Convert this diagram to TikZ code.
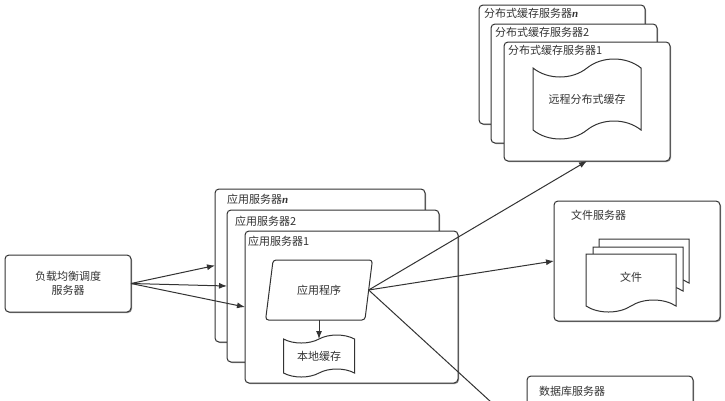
\documentclass[tikz,border=0pt]{standalone}
\usepackage{fontspec}
\setmainfont{Noto Sans CJK SC}
\newfontfamily\italicn{Liberation Serif}
\usetikzlibrary{positioning, shapes.geometric, shapes.symbols, shadows, arrows.meta}

\begin{document}
\begin{tikzpicture}[
        x=1pt, y=1pt,
        >={Latex[length=8pt,width=6pt]},
        line width=1pt,
        color=black!80,
        every node/.style={font=\fontsize{11}{14.5}\selectfont, outer sep=0pt},
        box/.style={draw, rectangle, rounded corners=4pt, fill=white, anchor=north west, align=center,
            drop shadow={shadow xshift=1pt, shadow yshift=-1pt, fill=black!60, opacity=0.7}},
        caption/.style={inner sep=0pt},
        wave/.style={draw, tape, fill=white, tape bend top=in and out, tape bend bottom=in and out, tape bend height=18pt, align=center},
        page/.style={draw, tape, fill=white, tape bend top=none, tape bend bottom=in and out, tape bend height=12pt, minimum width=90pt, minimum height=50pt}
    ]

    \clip (0,0) rectangle (725,-400);
    \fill[white] (0,0) rectangle (725,-400);

    % load balancer
    \node[box, minimum width=126pt, minimum height=57pt] (balancer) at (5,-255) {负载均衡调度\\服务器};

    % application servers
    \node[box, minimum width=210pt, minimum height=153pt] (appn) at (215,-189) {};
    \node[box, minimum width=212pt, minimum height=152pt, below right=21pt and 12pt of appn.north west] (app2) {};
    \node[box, minimum width=213pt, minimum height=152pt, below right=21pt and 18pt of app2.north west] (app1) {};
    \node[caption, below right=5pt and 12pt of appn.north west] (appn_label) {应用服务器{\italicn\bfseries\itshape n}};
    \node[caption, below right=6pt and 8pt of app2.north west] (app2_label) {应用服务器2};
    \node[caption, below right=5pt and 3pt of app1.north west] (app1_label) {应用服务器1};

    \node[draw, trapezium, trapezium left angle=70.7, trapezium right angle=109.3, trapezium stretches=true,
        rounded corners=3pt, fill=white, inner sep=0pt, minimum width=107pt, minimum height=60pt,
        below right=29pt and 44pt of app1.north west] (program) {应用程序};
    \node[wave, tape bend height=8pt, minimum width=71pt, minimum height=42pt, below=19pt of program] (localcache) {本地缓存};

    % cache servers
    \node[box, minimum width=166pt, minimum height=119pt] (cachen) at (479,-5) {};
    \node[box, minimum width=166pt, minimum height=119pt, below right=19pt and 12pt of cachen.north west] (cache2) {};
    \node[box, minimum width=166pt, minimum height=119pt, below right=18pt and 13pt of cache2.north west] (cache1) {};
    \node[caption, below right=3pt and 5pt of cachen.north west] (cachen_label) {分布式缓存服务器{\italicn\bfseries\itshape n}};
    \node[caption, below right=3pt and 4pt of cache2.north west] (cache2_label) {分布式缓存服务器2};
    \node[caption, below right=3pt and 4pt of cache1.north west] (cache1_label) {分布式缓存服务器1};
    \node[wave, minimum width=108pt, minimum height=80pt, below right=26pt and 29pt of cache1.north west] (remotecache) {远程分布式缓存};

    % file server
    \node[box, minimum width=166pt, minimum height=120pt] (fileserver) at (554,-201) {};
    \node[caption, below right=9pt and 17pt of fileserver.north west] (file_label) {文件服务器};
    \node[page, below right=38pt and 45pt of fileserver.north west] (page3) {};
    \node[page, below right=8pt and -6pt of page3.north west] (page2) {};
    \node[page, minimum height=58pt, below right=7pt and -7pt of page2.north west] (page1) {文件};

    % database server
    \node[box, minimum width=166pt, minimum height=118pt] (dbserver) at (527,-376) {};
    \node[caption, below right=10pt and 12pt of dbserver.north west] (db_label) {数据库服务器};

    \draw[->] (balancer.east) -- (appn.west);
    \draw[->] (balancer.east) -- (app2.west);
    \draw[->] (balancer.east) -- (app1.west);

    \draw[->] (program.south) -- (localcache.north);

    \draw[->] (program.east) -- (cache1.south);
    \draw[->] (program.east) -- (fileserver.west);
    \draw[->] (program.east) -- (dbserver.west);

\end{tikzpicture}
\end{document}
